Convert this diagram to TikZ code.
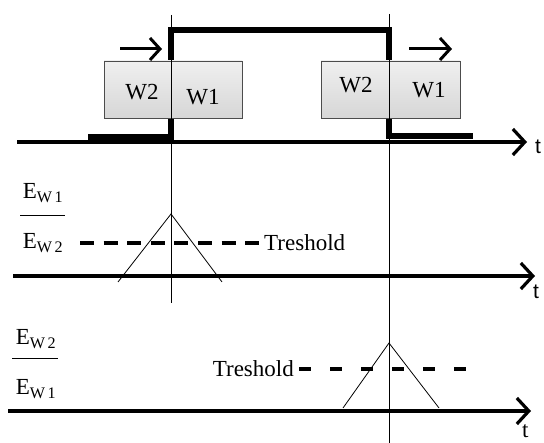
\documentclass[tikz,border=0pt]{standalone}
\usepackage{fontspec}
\setmainfont{Liberation Serif}
\newfontfamily\tfont{Liberation Sans}
\usetikzlibrary{arrows.meta}

\tikzset{
  axis/.style={line width=3.2pt,-{Straight Barb[length=12pt,width=26pt]}},
  movearrow/.style={line width=3pt,-{Straight Barb[length=10pt,width=22pt]}},
  pulse/.style={line width=5.5pt},
  guide/.style={line width=0.9pt},
  peak/.style={line width=0.8pt},
  wbox/.style={draw=black!70,line width=0.7pt,top color=gray!12,bottom color=gray!32,inner sep=0pt},
  lbl/.style={font=\fontsize{23}{26}\selectfont,inner sep=0pt},
  tlbl/.style={font=\tfont\fontsize{21}{24}\selectfont,inner sep=0pt,anchor=west}
}

\begin{document}
\begin{tikzpicture}[x=1pt,y=-1pt]
\useasboundingbox (0,0) rectangle (544,443);

% window signal
\draw[pulse] (88,137) -- (171,137) -- (171,30) -- (389,30) -- (389,136) -- (473,136);

% the two windows
\node[wbox,minimum width=138pt,minimum height=57pt] (boxa) at (173,89.5) {};
\node[wbox,minimum width=139pt,minimum height=57pt] (boxb) at (390.5,89.5) {};
\node[lbl] (w2a) at (142,92) {W2};
\node[lbl] (w1a) at (203,97) {W1};
\node[lbl] (w2b) at (356,85) {W2};
\node[lbl] (w1b) at (429,90) {W1};

% moving direction
\draw[movearrow] (120,49) -- (162,49);
\draw[movearrow] (409,49) -- (452,49);

% guide lines
\draw[guide] (171,15) -- (171,303);
\draw[guide] (389,14) -- (389,443);

% first time axis
\draw[axis] (17,142) -- (527,142);
\node[tlbl] (t1) at (535,147) {t};

% ratio W1/W2
\node[lbl] (num1) at (43,193) {E\textsubscript{W\,1}};
\node[lbl] (den1) at (43,243) {E\textsubscript{W\,2}};
\draw[line width=1pt] (20,216) -- (65,216);
\node[lbl,anchor=west] (tr1) at (264,243) {Treshold};
\draw[line width=4.5pt,dash pattern=on 14pt off 9.6pt] (80,243) -- (tr1.west);
\draw[peak] (118,282) -- (171,214) -- (222,282);
\draw[axis] (13,276) -- (535,276);
\node[tlbl] (t2) at (533,292) {t};

% ratio W2/W1
\node[lbl] (num2) at (36,339) {E\textsubscript{W\,2}};
\node[lbl] (den2) at (36,389) {E\textsubscript{W\,1}};
\draw[line width=1pt] (12,359) -- (58,359);
\node[lbl,anchor=east] (tr2) at (294,369) {Treshold};
\draw[line width=4.5pt,dash pattern=on 12pt off 19pt] (tr2.east) ++(5,0) -- (477,369);
\draw[peak] (343,408) -- (389,343) -- (439,408);
\draw[axis] (8,411) -- (531,411);
\node[lbl,anchor=west] (t3) at (522,431) {t};
\end{tikzpicture}
\end{document}
